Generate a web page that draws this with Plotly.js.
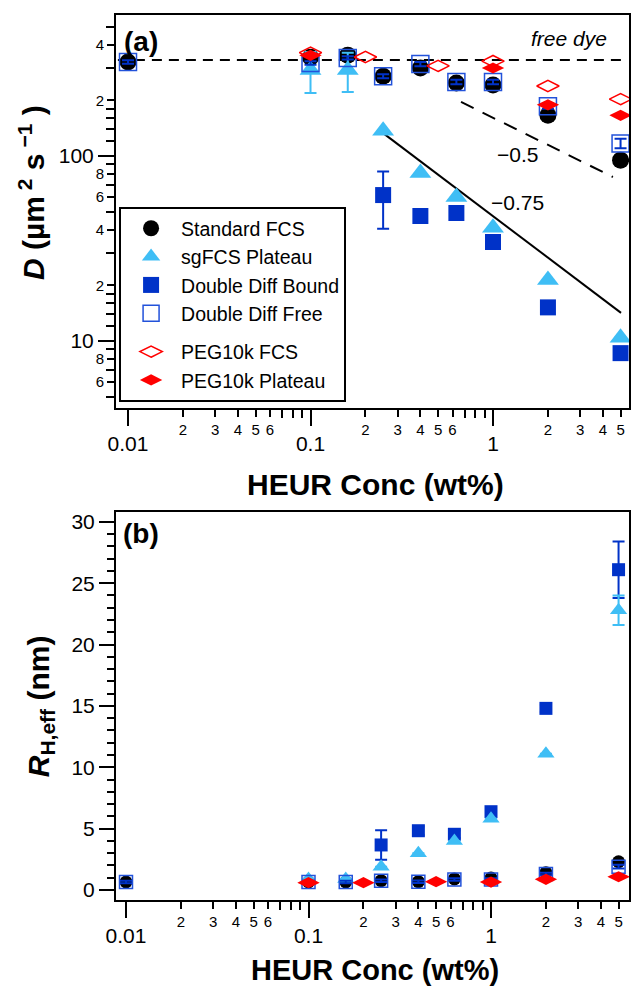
<!DOCTYPE html>
<html>
<head>
<meta charset="utf-8">
<script src="https://cdn.plot.ly/plotly-3.0.1.min.js"></script>
<style>html,body{margin:0;padding:0;background:#fff;}#chart{width:631px;height:989px;}</style>
</head>
<body>
<div id="chart"></div>
<script>
// ---------- data ----------
const conc      = [0.01, 0.1, 0.16, 0.25, 0.4, 0.63, 1, 2, 5];
const stdD      = [322, 342, 351, 270, 299, 248, 242, 166, 95];
const stdR      = [0.65, 0.65, 0.65, 0.76, 0.68, 0.9, 0.98, 1.41, 2.3];
const freeD     = [322, 318, 339, 270, 314, 251, 251, 186, 117];
const freeDerr  = [7, 7, 7, 7, 8, 7, 7, 6, 7];
const freeR     = [0.65, 0.65, 0.65, 0.76, 0.68, 0.85, 0.85, 1.3, 1.9];
const freeRerr  = [0.1, 0.1, 0.1, 0.1, 0.1, 0.1, 0.1, 0.1, 0.15];

const sgConc    = [0.1, 0.16, 0.25, 0.4, 0.63, 1, 2, 5];
const sgD       = [292, 292, 137, 81, 60, 41, 21.4, 10.4];
const sgDerr    = [73, 70, 0, 0, 0, 0, 0, 0];
const sgR       = [0.9, 0.9, 1.9, 3.0, 4.0, 5.8, 11.1, 22.8];
const sgRerr    = [0, 0, 0, 0, 0, 0, 0, 1.2];

const boundConc = [0.25, 0.4, 0.63, 1, 2, 5];
const boundD    = [61.5, 47.4, 49.2, 34.3, 15.2, 8.6];
const boundDerr = [21, 4, 1, 1, 0.5, 0.3];
const boundR    = [3.67, 4.83, 4.54, 6.38, 14.8, 26.1];
const boundRerr = [1.2, 0.35, 0.3, 0.2, 0.3, 2.3];

const pegConc     = [0.1, 0.2, 0.5, 1, 2, 5];
const pegFcsD     = [362, 343, 307, 326, 239, 203];
const pegPlatConcD = [0.1, 1, 2, 5];
const pegPlatD    = [350, 299, 189, 166];
const pegPlatR    = [0.6, 0.6, 0.68, 0.65, 0.87, 1.08];

// guide lines
const freeDyeX  = [0.0088, 5.3];
const freeDyeY  = [330, 330];
const halfX     = [0.668, 4.54];
const halfY     = [196, 77];
const threeQX   = [0.25, 5.03];
const threeQY   = [133, 14.2];

// tick labels
const majorXVals   = [0.01, 0.1, 1];
const majorXText   = ['0.01', '0.1', '1'];
const labMinorXVals = [0.02,0.03,0.04,0.05,0.06, 0.2,0.3,0.4,0.5,0.6, 2,3,4,5];
const labMinorXText = ['2','3','4','5','6', '2','3','4','5','6', '2','3','4','5'];
const bareMinorXVals = [0.07,0.08,0.09, 0.7,0.8,0.9];
const majorYVals   = [10, 100];
const majorYText   = ['10', '100'];
const labMinorYVals = [6, 8, 20, 40, 60, 80, 200, 400];
const labMinorYText = ['6', '8', '2', '4', '6', '8', '2', '4'];
const bareMinorYVals = [5, 7, 9, 12, 14, 16, 18, 30, 50, 70, 90, 120, 140, 160, 180, 300, 500];

// ---------- colours ----------
const cBlack = '#000000', cSky = '#3FBEF5', cBlue = '#0032C8', cBlueOpen = '#2252DA', cRed = '#FF0000';
const FONT = 'Arial, "Liberation Sans", sans-serif';

function err(arr, color) {
  return {type: 'data', array: arr, visible: true, color: color, thickness: 2, width: 6};
}

const traces = [
  // guide lines (top panel)
  {x: freeDyeX, y: freeDyeY, mode: 'lines', line: {color: '#000', width: 2, dash: '10px,7px'}, showlegend: false, hoverinfo: 'skip', xaxis: 'x', yaxis: 'y'},
  {x: halfX, y: halfY, mode: 'lines', line: {color: '#000', width: 2, dash: '14px,10px'}, showlegend: false, hoverinfo: 'skip', xaxis: 'x', yaxis: 'y'},
  {x: threeQX, y: threeQY, mode: 'lines', line: {color: '#000', width: 2}, showlegend: false, hoverinfo: 'skip', xaxis: 'x', yaxis: 'y'},

  // top panel data
  {name: 'Standard FCS', legendgroup: 'g1', x: conc, y: stdD, mode: 'markers', marker: {symbol: 'circle', size: 17, color: cBlack}, xaxis: 'x', yaxis: 'y'},
  {name: 'sgFCS Plateau', legendgroup: 'g1', x: sgConc, y: sgD, mode: 'markers', marker: {symbol: 'triangle-up', size: 19, color: cSky}, error_y: err(sgDerr, cSky), xaxis: 'x', yaxis: 'y'},
  {name: 'Double Diff Bound', legendgroup: 'g1', x: boundConc, y: boundD, mode: 'markers', marker: {symbol: 'square', size: 16, color: cBlue}, error_y: err(boundDerr, cBlue), xaxis: 'x', yaxis: 'y'},
  {name: 'Double Diff Free', legendgroup: 'g1', x: conc, y: freeD, mode: 'markers', marker: {symbol: 'square-open', size: 17, color: cBlueOpen, line: {width: 1.5, color: cBlueOpen}}, error_y: err(freeDerr, cBlue), xaxis: 'x', yaxis: 'y'},
  {name: 'PEG10k FCS', legendgroup: 'g2', x: pegConc, y: pegFcsD, mode: 'markers', marker: {symbol: 'diamond-wide-open', size: 16, color: cRed, line: {width: 1.5, color: cRed}}, xaxis: 'x', yaxis: 'y'},
  {name: 'PEG10k Plateau', legendgroup: 'g2', x: pegPlatConcD, y: pegPlatD, mode: 'markers', marker: {symbol: 'diamond-wide', size: 16, color: cRed}, xaxis: 'x', yaxis: 'y'},

  // bottom panel data
  {x: conc, y: stdR, mode: 'markers', marker: {symbol: 'circle', size: 13, color: cBlack}, showlegend: false, xaxis: 'x2', yaxis: 'y2'},
  {x: boundConc, y: boundR, mode: 'markers', marker: {symbol: 'square', size: 13, color: cBlue}, error_y: err(boundRerr, cBlue), showlegend: false, xaxis: 'x2', yaxis: 'y2'},
  {x: sgConc, y: sgR, mode: 'markers', marker: {symbol: 'triangle-up', size: 15, color: cSky}, error_y: err(sgRerr, cSky), showlegend: false, xaxis: 'x2', yaxis: 'y2'},
  {x: conc, y: freeR, mode: 'markers', marker: {symbol: 'square-open', size: 13, color: cBlueOpen, line: {width: 1.5, color: cBlueOpen}}, error_y: err(freeRerr, cBlue), showlegend: false, xaxis: 'x2', yaxis: 'y2'},
  {x: pegConc, y: pegPlatR, mode: 'markers', marker: {symbol: 'diamond-wide', size: 16, color: cRed}, showlegend: false, xaxis: 'x2', yaxis: 'y2'},

  // empty traces that register the overlay (labelled minor-tick) axes
  {x: [], y: [], xaxis: 'x3', yaxis: 'y', showlegend: false, hoverinfo: 'skip'},
  {x: [], y: [], xaxis: 'x', yaxis: 'y3', showlegend: false, hoverinfo: 'skip'},
  {x: [], y: [], xaxis: 'x4', yaxis: 'y2', showlegend: false, hoverinfo: 'skip'}
];

const topXRange = [-2.0658, 0.7452];
const botXRange = [-2.0548, 0.7562];
const topYRange = [0.6378, 2.7622];
const botYRange = [-0.815, 30.8];

const axBase = {showgrid: false, zeroline: false, ticks: 'outside', tickcolor: '#000', linecolor: '#000'};
const bareMinor = (vals) => ({ticks: 'outside', tickmode: 'array', tickvals: vals, ticklen: 8, tickwidth: 2, tickcolor: '#000', showgrid: false});

const layout = {
  width: 631, height: 989,
  margin: {l: 116, r: 2, t: 15, b: 89},
  paper_bgcolor: '#fff', plot_bgcolor: '#fff',
  font: {family: FONT, color: '#000'},
  showlegend: true,
  xaxis: Object.assign({}, axBase, {type: 'log', range: topXRange, domain: [0, 1], anchor: 'y',
    tickmode: 'array', tickvals: majorXVals, ticktext: majorXText, ticklen: 16, tickwidth: 2,
    minor: bareMinor(bareMinorXVals),
    showline: true, linewidth: 2, mirror: true, tickfont: {size: 21, family: FONT}}),
  xaxis3: Object.assign({}, axBase, {type: 'log', range: topXRange, overlaying: 'x', anchor: 'y',
    tickmode: 'array', tickvals: labMinorXVals, ticktext: labMinorXText, ticklen: 8, tickwidth: 2,
    showline: false, tickfont: {size: 15, family: FONT}}),
  yaxis: Object.assign({}, axBase, {type: 'log', range: topYRange, domain: [0.5559, 1], anchor: 'x',
    tickmode: 'array', tickvals: majorYVals, ticktext: majorYText, ticklen: 16, tickwidth: 2,
    minor: bareMinor(bareMinorYVals),
    showline: true, linewidth: 2, mirror: true, tickfont: {size: 21, family: FONT}}),
  yaxis3: Object.assign({}, axBase, {type: 'log', range: topYRange, overlaying: 'y', anchor: 'x', side: 'left',
    tickmode: 'array', tickvals: labMinorYVals, ticktext: labMinorYText, ticklen: 8, tickwidth: 2,
    showline: false, tickfont: {size: 15, family: FONT}}),
  xaxis2: Object.assign({}, axBase, {type: 'log', range: botXRange, domain: [0, 1], anchor: 'y2',
    tickmode: 'array', tickvals: majorXVals, ticktext: majorXText, ticklen: 16, tickwidth: 2,
    minor: bareMinor(bareMinorXVals),
    showline: true, linewidth: 2, mirror: true, tickfont: {size: 21, family: FONT}}),
  xaxis4: Object.assign({}, axBase, {type: 'log', range: botXRange, overlaying: 'x2', anchor: 'y2',
    tickmode: 'array', tickvals: labMinorXVals, ticktext: labMinorXText, ticklen: 8, tickwidth: 2,
    showline: false, tickfont: {size: 15, family: FONT}}),
  yaxis2: Object.assign({}, axBase, {type: 'linear', range: botYRange, domain: [0, 0.4384], anchor: 'x2',
    tickmode: 'linear', tick0: 0, dtick: 5, ticklen: 15, tickwidth: 2,
    minor: {ticks: 'outside', dtick: 1, tick0: 0, ticklen: 7, tickwidth: 2, tickcolor: '#000', showgrid: false},
    showline: true, linewidth: 2, mirror: true, tickfont: {size: 21, family: FONT}}),
  legend: {x: 0.006, y: 0.783, xanchor: 'left', yanchor: 'top', bgcolor: '#fff', bordercolor: '#000', borderwidth: 2,
    font: {size: 19.5, family: FONT, color: '#000'}, traceorder: 'grouped', tracegroupgap: 10, itemwidth: 50},
  annotations: [
    {xref: 'paper', yref: 'paper', x: 0.0487, y: 0.9706, text: '<b>(a)</b>', showarrow: false, font: {size: 28, family: FONT}, xanchor: 'center', yanchor: 'middle'},
    {xref: 'paper', yref: 'paper', x: 0.0487, y: 0.4136, text: '<b>(b)</b>', showarrow: false, font: {size: 28, family: FONT}, xanchor: 'center', yanchor: 'middle'},
    {xref: 'paper', yref: 'paper', x: 0.883, y: 0.9729, text: '<i>free dye</i>', showarrow: false, font: {size: 21, family: FONT}, xanchor: 'center', yanchor: 'middle'},
    {xref: 'paper', yref: 'paper', x: 0.7817, y: 0.8429, text: '\u22120.5', showarrow: false, font: {size: 21, family: FONT}, xanchor: 'center', yanchor: 'middle'},
    {xref: 'paper', yref: 'paper', x: 0.7817, y: 0.7887, text: '\u22120.75', showarrow: false, font: {size: 21, family: FONT}, xanchor: 'center', yanchor: 'middle'},
    {xref: 'paper', yref: 'paper', x: 0.505, y: 0.470, text: '<b>HEUR Conc (wt%)</b>', showarrow: false, font: {size: 30, family: FONT}, xanchor: 'center', yanchor: 'middle'},
    {xref: 'paper', yref: 'paper', x: 0.505, y: -0.0791, text: '<b>HEUR Conc (wt%)</b>', showarrow: false, font: {size: 29, family: FONT}, xanchor: 'center', yanchor: 'middle'},
    {xref: 'paper', yref: 'paper', x: -0.164, y: 0.7999, text: '<b><i>D</i> (\u00b5m<sup>\u00a02</sup>\u00a0s<sup>\u00a0\u22121</sup>\u00a0)</b>', showarrow: false, textangle: -90, font: {size: 30, family: FONT}, xanchor: 'center', yanchor: 'middle'},
    {xref: 'paper', yref: 'paper', x: -0.148, y: 0.219, text: '<b><i>R</i><sub>H,eff</sub> (nm)</b>', showarrow: false, textangle: -90, font: {size: 30, family: FONT}, xanchor: 'center', yanchor: 'middle'}
  ]
};

Plotly.newPlot('chart', traces, layout, {staticPlot: true, displayModeBar: false});
</script>
</body>
</html>
